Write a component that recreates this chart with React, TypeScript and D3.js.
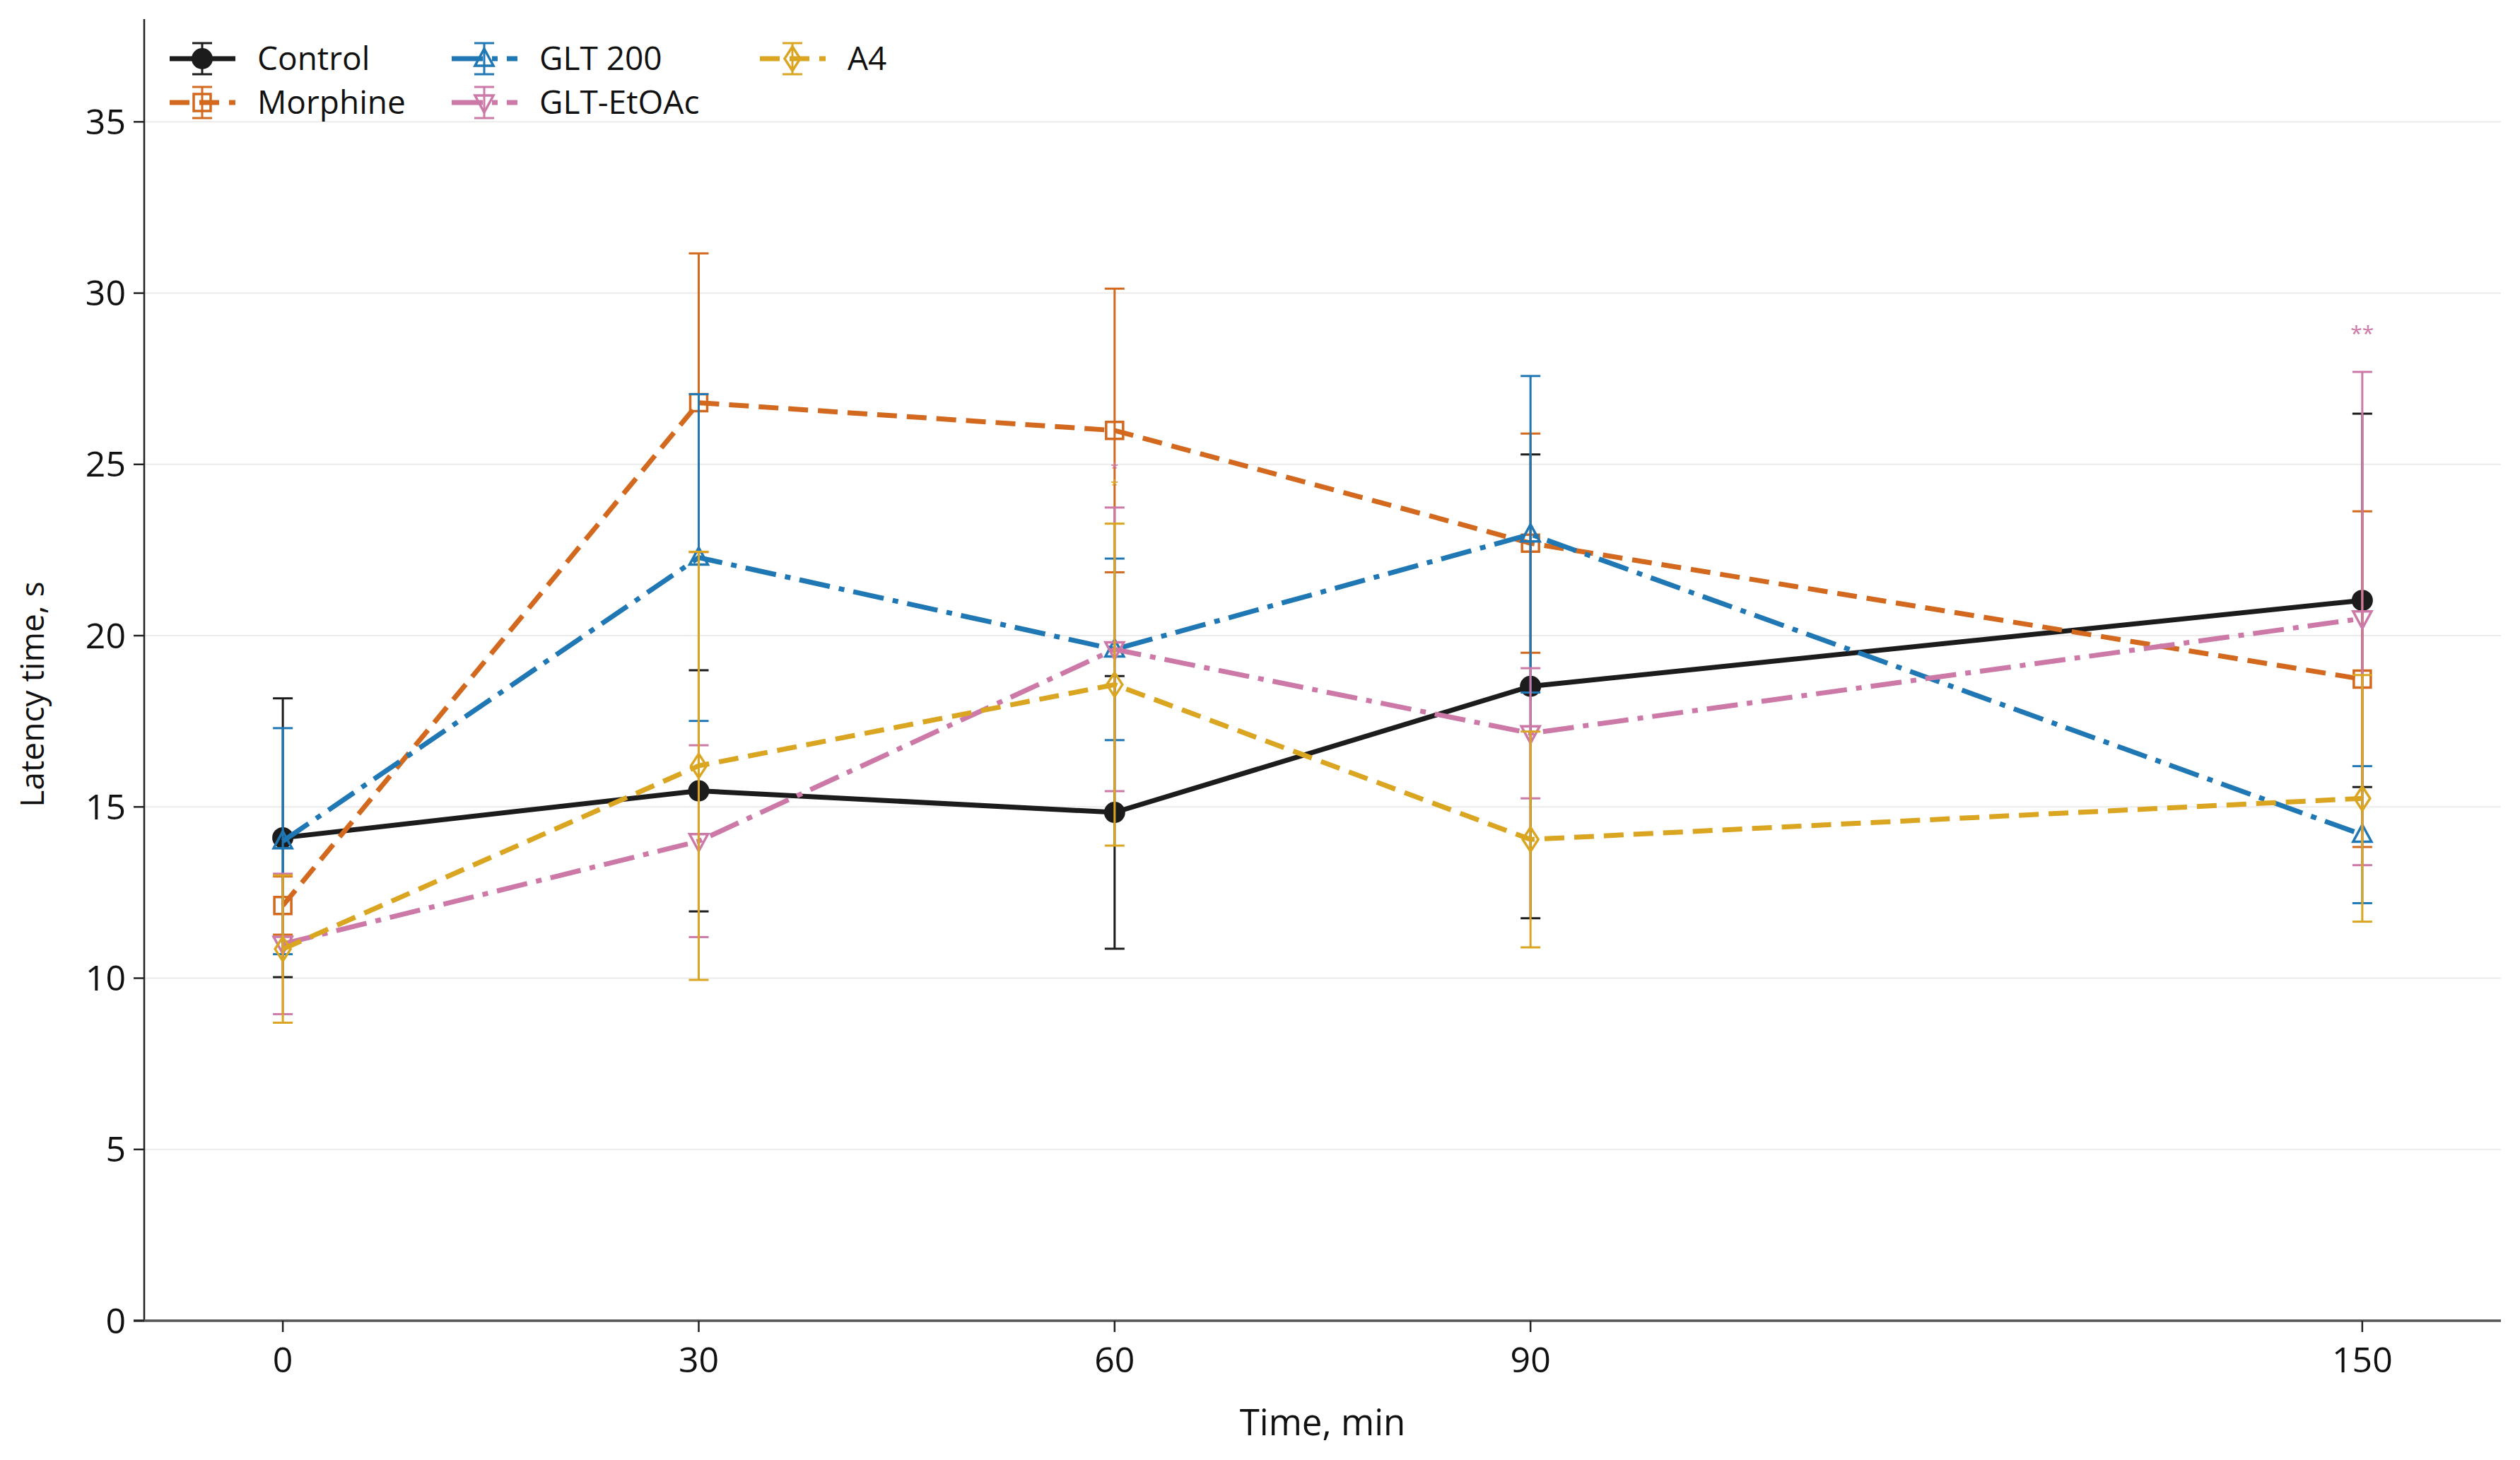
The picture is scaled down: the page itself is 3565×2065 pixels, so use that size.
import React from 'react';
import * as d3 from 'd3';

// time points (min)
const times = [0, 30, 60, 90, 150];
const xTicks = [0, 30, 60, 90, 150];
const yTicks = [0, 5, 10, 15, 20, 25, 30, 35];

// means and error
const controlMean = [14.1, 15.47, 14.84, 18.52, 21.03];
const controlErr = [4.07, 3.52, 3.98, 6.77, 5.45];
const morphineMean = [12.12, 26.8, 25.99, 22.7, 18.73];
const morphineErr = [0.85, 4.36, 4.14, 3.2, 4.9];
const glt200Mean = [14.0, 22.28, 19.6, 22.96, 14.19];
const glt200Err = [3.3, 4.77, 2.65, 4.62, 2.0];
const etoacMean = [11.0, 14.0, 19.6, 17.15, 20.5];
const etoacErr = [2.05, 2.8, 4.14, 1.9, 7.2];
const a4Mean = [10.85, 16.2, 18.57, 14.05, 15.25];
const a4Err = [2.15, 6.25, 4.7, 3.15, 3.6];

// significance marks: [series, time, value, text]
const marks: [string, number, number, string][] = [
  ['GLT-EtOAc', 60, 24.98, '*'],
  ['A4', 60, 24.49, '*'],
  ['GLT-EtOAc', 150, 28.94, '**'],
];

type Marker = 'circle' | 'square' | 'triUp' | 'triDown' | 'thinDiamond';

interface Series {
  name: string;
  mean: number[];
  err: number[];
  color: string;
  dash: string;
  marker: Marker;
  width: number;
}

const series: Series[] = [
  { name: 'Control', mean: controlMean, err: controlErr, color: '#1c1c1c', dash: '', marker: 'circle', width: 7 },
  { name: 'Morphine', mean: morphineMean, err: morphineErr, color: '#d2691e', dash: '28 14', marker: 'square', width: 7 },
  { name: 'GLT 200', mean: glt200Mean, err: glt200Err, color: '#1f77b4', dash: '44 13 8 13', marker: 'triUp', width: 7 },
  { name: 'GLT-EtOAc', mean: etoacMean, err: etoacErr, color: '#cc79a7', dash: '44 13 8 13', marker: 'triDown', width: 7 },
  { name: 'A4', mean: a4Mean, err: a4Err, color: '#daa520', dash: '28 14', marker: 'thinDiamond', width: 7 },
];

const W = 3565;
const H = 2065;
const FONT = '"Open Sans", "DejaVu Sans", sans-serif';

const markerPath = (m: Marker, cx: number, cy: number): string => {
  switch (m) {
    case 'square':
      return `M${cx - 12},${cy - 12}h24v24h-24Z`;
    case 'triUp':
      return `M${cx},${cy - 14}L${cx + 13},${cy + 10}L${cx - 13},${cy + 10}Z`;
    case 'triDown':
      return `M${cx},${cy + 14}L${cx + 13},${cy - 10}L${cx - 13},${cy - 10}Z`;
    default:
      return `M${cx},${cy - 17}L${cx + 11},${cy}L${cx},${cy + 17}L${cx - 11},${cy}Z`;
  }
};

const MarkerShape: React.FC<{ s: Series; cx: number; cy: number }> = ({ s, cx, cy }) =>
  s.marker === 'circle' ? (
    <circle cx={cx} cy={cy} r={15} fill={s.color} />
  ) : (
    <path d={markerPath(s.marker, cx, cy)} fill="none" stroke={s.color} strokeWidth={3.5} />
  );

const App: React.FC = () => {
  const x = d3.scaleLinear().domain([-10, 160]).range([204, 3538]);
  const y = d3.scaleLinear().domain([0, 38]).range([1868, 27]);
  const capHalf = 14;

  const line = d3
    .line<number>()
    .x((_, i) => x(times[i]))
    .y((d) => y(d));

  const legendCols = [240, 639, 1075];
  const legendRows = [83, 145];

  return (
    <div style={{ position: 'absolute', left: 0, top: 0, background: '#fff' }}>
      <svg width={W} height={H} style={{ display: 'block', fontFamily: FONT }}>
        <rect width={W} height={H} fill="#fff" />

        {/* grid */}
        {yTicks.filter((t) => t > 0).map((t) => (
          <line key={'g' + t} x1={x(-10)} x2={x(160)} y1={y(t)} y2={y(t)} stroke="#ebebeb" strokeWidth={2} />
        ))}

        {/* axes */}
        <line x1={x(-10)} x2={x(-10)} y1={y(0)} y2={y(38)} stroke="#222" strokeWidth={2.5} />
        <line x1={x(-10) - 15} x2={x(160)} y1={y(0)} y2={y(0)} stroke="#555" strokeWidth={3.5} />
        {yTicks.map((t) => (
          <g key={'y' + t}>
            <line x1={x(-10) - 15} x2={x(-10)} y1={y(t)} y2={y(t)} stroke="#222" strokeWidth={2.5} />
            <text x={x(-10) - 26} y={y(t)} dy="0.35em" textAnchor="end" fontSize={50} fill="#111">
              {t}
            </text>
          </g>
        ))}
        {xTicks.map((t) => (
          <g key={'x' + t}>
            <line x1={x(t)} x2={x(t)} y1={y(0)} y2={y(0) + 16} stroke="#222" strokeWidth={2.5} />
            <text x={x(t)} y={1941} textAnchor="middle" fontSize={50} fill="#111">
              {t}
            </text>
          </g>
        ))}
        <text x={1871} y={2030} textAnchor="middle" fontSize={51} fill="#111">
          Time, min
        </text>
        <text
          transform={`translate(46,982) rotate(-90)`}
          textAnchor="middle"
          dy="0.35em"
          fontSize={46}
          fill="#111"
        >
          Latency time, s
        </text>

        {/* series */}
        {series.map((s) => (
          <g key={s.name}>
            {s.mean.map((m, i) => (
              <g key={i} stroke={s.color} strokeWidth={3}>
                <line x1={x(times[i])} x2={x(times[i])} y1={y(m - s.err[i])} y2={y(m + s.err[i])} />
                <line x1={x(times[i]) - capHalf} x2={x(times[i]) + capHalf} y1={y(m - s.err[i])} y2={y(m - s.err[i])} />
                <line x1={x(times[i]) - capHalf} x2={x(times[i]) + capHalf} y1={y(m + s.err[i])} y2={y(m + s.err[i])} />
              </g>
            ))}
            <path d={line(s.mean) || ''} fill="none" stroke={s.color} strokeWidth={s.width} strokeDasharray={s.dash} />
            {s.mean.map((m, i) => (
              <MarkerShape key={'m' + i} s={s} cx={x(times[i])} cy={y(m)} />
            ))}
          </g>
        ))}

        {/* significance */}
        {marks.map(([name, t, v, txt], i) => {
          const s = series.find((d) => d.name === name)!;
          return (
            <text
              key={'s' + i}
              x={x(t)}
              y={y(v)}
              dy="0.55em"
              textAnchor="middle"
              fontSize={txt.length > 1 ? 30 : 20}
              fill={s.color}
            >
              {txt}
            </text>
          );
        })}

        {/* legend */}
        {series.map((s, i) => {
          const lx = legendCols[Math.floor(i / 2)];
          const ly = legendRows[i % 2];
          const cx = lx + 46;
          return (
            <g key={'l' + s.name}>
              <line x1={lx} x2={lx + 93} y1={ly} y2={ly} stroke={s.color} strokeWidth={s.width} strokeDasharray={s.dash} />
              <g stroke={s.color} strokeWidth={3}>
                <line x1={cx} x2={cx} y1={ly - 22} y2={ly + 22} />
                <line x1={cx - capHalf} x2={cx + capHalf} y1={ly - 22} y2={ly - 22} />
                <line x1={cx - capHalf} x2={cx + capHalf} y1={ly + 22} y2={ly + 22} />
              </g>
              <MarkerShape s={s} cx={cx} cy={ly} />
              <text x={lx + 124} y={ly} dy="0.35em" fontSize={46} fill="#111">
                {s.name}
              </text>
            </g>
          );
        })}
      </svg>
    </div>
  );
};

export default App;
